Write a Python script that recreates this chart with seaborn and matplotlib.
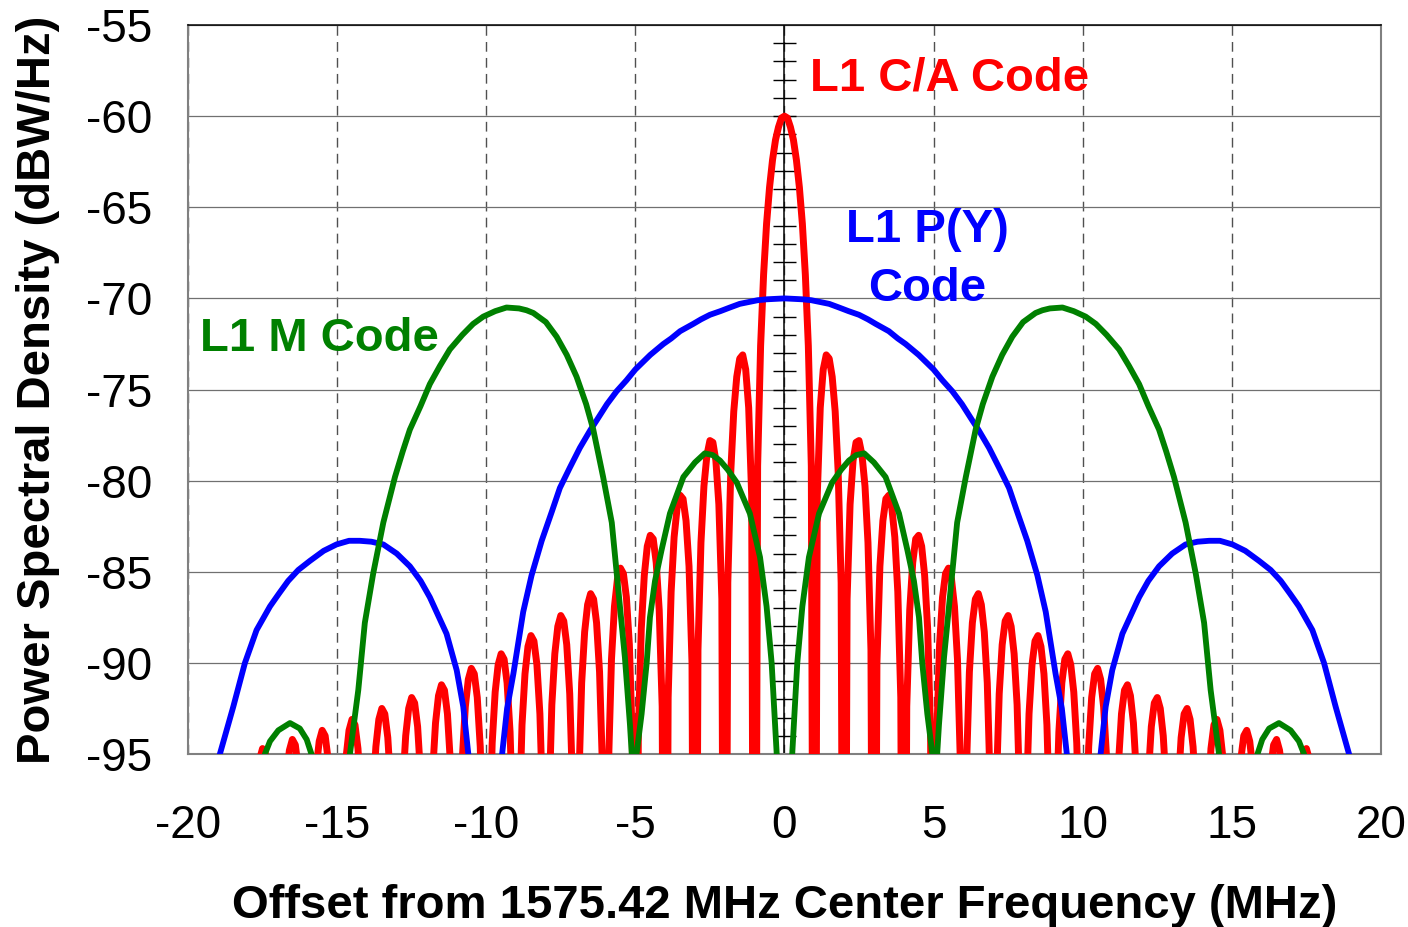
import matplotlib
matplotlib.use("Agg")
import matplotlib.pyplot as plt
import seaborn as sns

# GPS L1 signal spectra (MHz offset, dBW/Hz)

# L1 C/A code: one row per lobe, nulls pushed well below the axis
ca_x = [-18.0,
        -17.9, -17.8, -17.7, -17.6, -17.5, -17.4, -17.3, -17.2, -17.1, -17.0,
        -16.9, -16.8, -16.7, -16.6, -16.5, -16.4, -16.3, -16.2, -16.1, -16.0,
        -15.9, -15.8, -15.7, -15.6, -15.5, -15.4, -15.3, -15.2, -15.1, -15.0,
        -14.9, -14.8, -14.7, -14.6, -14.5, -14.4, -14.3, -14.2, -14.1, -14.0,
        -13.9, -13.8, -13.7, -13.6, -13.5, -13.4, -13.3, -13.2, -13.1, -13.0,
        -12.9, -12.8, -12.7, -12.6, -12.5, -12.4, -12.3, -12.2, -12.1, -12.0,
        -11.9, -11.8, -11.7, -11.6, -11.5, -11.4, -11.3, -11.2, -11.1, -11.0,
        -10.9, -10.8, -10.7, -10.6, -10.5, -10.4, -10.3, -10.2, -10.1, -10.0,
        -9.9, -9.8, -9.7, -9.6, -9.5, -9.4, -9.3, -9.2, -9.1, -9.0,
        -8.9, -8.8, -8.7, -8.6, -8.5, -8.4, -8.3, -8.2, -8.1, -8.0,
        -7.9, -7.8, -7.7, -7.6, -7.5, -7.4, -7.3, -7.2, -7.1, -7.0,
        -6.9, -6.8, -6.7, -6.6, -6.5, -6.4, -6.3, -6.2, -6.1, -6.0,
        -5.9, -5.8, -5.7, -5.6, -5.5, -5.4, -5.3, -5.2, -5.1, -5.0,
        -4.9, -4.8, -4.7, -4.6, -4.5, -4.4, -4.3, -4.2, -4.1, -4.0,
        -3.9, -3.8, -3.7, -3.6, -3.5, -3.4, -3.3, -3.2, -3.1, -3.0,
        -2.9, -2.8, -2.7, -2.6, -2.5, -2.4, -2.3, -2.2, -2.1, -2.0,
        -1.9, -1.8, -1.7, -1.6, -1.5, -1.4, -1.3, -1.2, -1.1, -1.0,
        -0.9, -0.8, -0.7, -0.6, -0.5, -0.4, -0.3, -0.2, -0.1, 0.0,
        0.1, 0.2, 0.3, 0.4, 0.5, 0.6, 0.7, 0.8, 0.9,
        1.0, 1.1, 1.2, 1.3, 1.4, 1.5, 1.6, 1.7, 1.8, 1.9,
        2.0, 2.1, 2.2, 2.3, 2.4, 2.5, 2.6, 2.7, 2.8, 2.9,
        3.0, 3.1, 3.2, 3.3, 3.4, 3.5, 3.6, 3.7, 3.8, 3.9,
        4.0, 4.1, 4.2, 4.3, 4.4, 4.5, 4.6, 4.7, 4.8, 4.9,
        5.0, 5.1, 5.2, 5.3, 5.4, 5.5, 5.6, 5.7, 5.8, 5.9,
        6.0, 6.1, 6.2, 6.3, 6.4, 6.5, 6.6, 6.7, 6.8, 6.9,
        7.0, 7.1, 7.2, 7.3, 7.4, 7.5, 7.6, 7.7, 7.8, 7.9,
        8.0, 8.1, 8.2, 8.3, 8.4, 8.5, 8.6, 8.7, 8.8, 8.9,
        9.0, 9.1, 9.2, 9.3, 9.4, 9.5, 9.6, 9.7, 9.8, 9.9,
        10.0, 10.1, 10.2, 10.3, 10.4, 10.5, 10.6, 10.7, 10.8, 10.9,
        11.0, 11.1, 11.2, 11.3, 11.4, 11.5, 11.6, 11.7, 11.8, 11.9,
        12.0, 12.1, 12.2, 12.3, 12.4, 12.5, 12.6, 12.7, 12.8, 12.9,
        13.0, 13.1, 13.2, 13.3, 13.4, 13.5, 13.6, 13.7, 13.8, 13.9,
        14.0, 14.1, 14.2, 14.3, 14.4, 14.5, 14.6, 14.7, 14.8, 14.9,
        15.0, 15.1, 15.2, 15.3, 15.4, 15.5, 15.6, 15.7, 15.8, 15.9,
        16.0, 16.1, 16.2, 16.3, 16.4, 16.5, 16.6, 16.7, 16.8, 16.9,
        17.0, 17.1, 17.2, 17.3, 17.4, 17.5, 17.6, 17.7, 17.8, 17.9,
        18.0]
ca_db = [-130,
         -105.4, -99.6, -96.8, -95.3, -94.7, -95.0, -96.3, -99.0, -104.4, -130,
         -104.9, -99.1, -96.3, -94.8, -94.2, -94.5, -95.8, -98.5, -103.9, -130,
         -104.4, -98.6, -95.8, -94.3, -93.7, -94.0, -95.3, -98.0, -103.4, -130,
         -103.8, -98.0, -95.2, -93.7, -93.1, -93.4, -94.7, -97.4, -102.8, -130,
         -103.2, -97.4, -94.6, -93.1, -92.5, -92.8, -94.1, -96.8, -102.2, -130,
         -102.6, -96.8, -94.0, -92.5, -91.9, -92.2, -93.5, -96.2, -101.6, -130,
         -101.9, -96.1, -93.3, -91.8, -91.2, -91.5, -92.8, -95.5, -100.9, -130,
         -101.0, -95.2, -92.4, -90.9, -90.3, -90.6, -91.9, -94.6, -100.0, -130,
         -100.2, -94.4, -91.6, -90.1, -89.5, -89.8, -91.1, -93.8, -99.2, -130,
         -99.2, -93.4, -90.6, -89.1, -88.5, -88.8, -90.1, -92.8, -98.2, -130,
         -98.1, -92.3, -89.5, -88.0, -87.4, -87.7, -89.0, -91.7, -97.1, -130,
         -96.9, -91.1, -88.3, -86.8, -86.2, -86.5, -87.8, -90.5, -95.9, -130,
         -95.6, -89.8, -86.9, -85.4, -84.8, -85.1, -86.4, -89.0, -94.4, -130,
         -93.9, -88.1, -85.2, -83.6, -83.0, -83.2, -84.5, -87.1, -92.4, -130,
         -91.9, -86.1, -83.1, -81.5, -80.8, -81.0, -82.2, -84.7, -90.0, -130,
         -89.3, -83.4, -80.3, -78.6, -77.8, -77.9, -78.9, -81.3, -86.5, -130,
         -85.6, -79.5, -76.2, -74.3, -73.3, -73.1, -73.9, -76.0, -80.8, -130,
         -79.2, -72.6, -68.7, -65.9, -63.9, -62.4, -61.3, -60.6, -60.1, -60.0,
         -60.1, -60.6, -61.3, -62.4, -63.9, -65.9, -68.7, -72.6, -79.2,
         -130, -80.8, -76.0, -73.9, -73.1, -73.3, -74.3, -76.2, -79.5, -85.6,
         -130, -86.5, -81.3, -78.9, -77.9, -77.8, -78.6, -80.3, -83.4, -89.3,
         -130, -90.0, -84.7, -82.2, -81.0, -80.8, -81.5, -83.1, -86.1, -91.9,
         -130, -92.4, -87.1, -84.5, -83.2, -83.0, -83.6, -85.2, -88.1, -93.9,
         -130, -94.4, -89.0, -86.4, -85.1, -84.8, -85.4, -86.9, -89.8, -95.6,
         -130, -95.9, -90.5, -87.8, -86.5, -86.2, -86.8, -88.3, -91.1, -96.9,
         -130, -97.1, -91.7, -89.0, -87.7, -87.4, -88.0, -89.5, -92.3, -98.1,
         -130, -98.2, -92.8, -90.1, -88.8, -88.5, -89.1, -90.6, -93.4, -99.2,
         -130, -99.2, -93.8, -91.1, -89.8, -89.5, -90.1, -91.6, -94.4, -100.2,
         -130, -100.0, -94.6, -91.9, -90.6, -90.3, -90.9, -92.4, -95.2, -101.0,
         -130, -100.9, -95.5, -92.8, -91.5, -91.2, -91.8, -93.3, -96.1, -101.9,
         -130, -101.6, -96.2, -93.5, -92.2, -91.9, -92.5, -94.0, -96.8, -102.6,
         -130, -102.2, -96.8, -94.1, -92.8, -92.5, -93.1, -94.6, -97.4, -103.2,
         -130, -102.8, -97.4, -94.7, -93.4, -93.1, -93.7, -95.2, -98.0, -103.8,
         -130, -103.4, -98.0, -95.3, -94.0, -93.7, -94.3, -95.8, -98.6, -104.4,
         -130, -103.9, -98.5, -95.8, -94.5, -94.2, -94.8, -96.3, -99.1, -104.9,
         -130, -104.4, -99.0, -96.3, -95.0, -94.7, -95.3, -96.8, -99.6, -105.4,
         -130]

# L1 P(Y) code
py_x = [-19.2, -18.93, -18.48, -18.09, -17.70, -17.25, -16.95, -16.64, -16.3, -15.91,
        -15.45, -15.02, -14.6, -14.24, -13.85, -13.45, -13.0, -12.56, -12.2, -11.89,
        -11.33, -10.99, -10.77, -10.60, -10.45, -10.0,
        -9.6, -9.48, -9.3, -9.09, -8.76, -8.48, -8.14, -7.8, -7.53, -7.2, -6.86, -6.5,
        -6.3, -5.95, -5.63, -5.3, -5.0, -4.75, -4.5, -4.06, -3.8, -3.5, -3.06, -2.8,
        -2.5, -2.15, -1.83, -1.5, -1.2, -0.9, -0.6, 0.0,
        0.6, 0.9, 1.2, 1.5, 1.83, 2.15, 2.5, 2.8, 3.06, 3.5, 3.8, 4.06, 4.5, 4.75,
        5.0, 5.3, 5.63, 5.95, 6.3, 6.5, 6.86, 7.2, 7.53, 7.8, 8.14, 8.48, 8.76, 9.09,
        9.3, 9.48, 9.6,
        10.0, 10.45, 10.60, 10.77, 10.99, 11.33, 11.89, 12.2, 12.56, 13.0, 13.45,
        13.85, 14.24, 14.6, 15.02, 15.45, 15.91, 16.3, 16.64, 16.95, 17.25, 17.70,
        18.09, 18.48, 18.93, 19.2]
py_db = [-97.0, -95.0, -92.4, -90.0, -88.2, -86.9, -86.2, -85.5, -84.9, -84.4,
         -83.85, -83.5, -83.3, -83.3, -83.35, -83.5, -84.0, -84.7, -85.5, -86.4,
         -88.4, -90.4, -92.4, -95.0, -97.5, -130,
         -97.6, -95.2, -92.5, -90.6, -87.2, -85.2, -83.3, -81.7, -80.4, -79.3, -78.2, -77.2,
         -76.7, -75.8, -75.1, -74.5, -73.9, -73.5, -73.1, -72.5, -72.2, -71.8, -71.4, -71.15,
         -70.9, -70.7, -70.5, -70.3, -70.2, -70.1, -70.05, -70.0,
         -70.05, -70.1, -70.2, -70.3, -70.5, -70.7, -70.9, -71.15, -71.4, -71.8, -72.2, -72.5,
         -73.1, -73.5, -73.9, -74.5, -75.1, -75.8, -76.7, -77.2, -78.2, -79.3, -80.4, -81.7,
         -83.3, -85.2, -87.2, -90.6, -92.5, -95.2, -97.6,
         -130, -97.5, -95.0, -92.4, -90.4, -88.4, -86.4, -85.5, -84.7, -84.0, -83.5,
         -83.35, -83.3, -83.3, -83.5, -83.85, -84.4, -84.9, -85.5, -86.2, -86.9, -88.2,
         -90.0, -92.4, -95.0, -97.0]

# L1 M code
m_x = [-17.6, -17.42, -17.25, -16.97, -16.58, -16.25, -16.02, -15.86, -15.7, -15.2,
       -14.7, -14.57, -14.29, -14.07, -13.79, -13.45, -13.06, -12.8, -12.56, -12.2,
       -11.89, -11.55, -11.22, -10.8, -10.44, -10.1, -9.7, -9.32, -8.9, -8.65,
       -8.42, -8.0, -7.64, -7.3, -6.97, -6.65, -6.41, -6.08, -5.79, -5.57,
       -5.35, -5.18, -5.12, -5.04,
       -4.96, -4.79, -4.62, -4.51, -4.34, -4.12, -3.84, -3.39, -3.0, -2.67, -2.4,
       -2.16, -1.9, -1.6, -1.16, -0.82, -0.6, -0.43, -0.26, -0.12, 0.0,
       0.12, 0.26, 0.43, 0.6, 0.82, 1.16, 1.6, 1.9, 2.16, 2.4, 2.67, 3.0, 3.39,
       3.84, 4.12, 4.34, 4.51, 4.62, 4.79, 4.96,
       5.04, 5.12, 5.18, 5.35, 5.57, 5.79, 6.08, 6.41, 6.65, 6.97, 7.3, 7.64,
       8.0, 8.42, 8.65, 8.9, 9.32, 9.7, 10.1, 10.44, 10.8, 11.22, 11.55, 11.89,
       12.2, 12.56, 12.8, 13.06, 13.45, 13.79, 14.07, 14.29, 14.57, 14.7,
       15.2, 15.7, 15.86, 16.02, 16.25, 16.58, 16.97, 17.25, 17.42, 17.6]
m_db = [-97.0, -95.0, -94.3, -93.7, -93.3, -93.6, -94.2, -95.0, -96.5, -130,
        -97.0, -95.0, -91.5, -87.8, -85.1, -82.3, -79.8, -78.4, -77.2, -75.9,
        -74.7, -73.7, -72.8, -72.0, -71.4, -71.0, -70.7, -70.5, -70.55, -70.65,
        -70.8, -71.3, -72.1, -73.1, -74.3, -75.8, -77.2, -79.8, -82.3, -86.0,
        -89.7, -93.4, -95.0, -130,
        -95.0, -92.8, -90.0, -87.5, -85.5, -83.8, -81.8, -79.8, -79.0, -78.5, -78.6,
        -78.9, -79.4, -80.1, -81.8, -84.2, -86.9, -90.0, -95.0, -101.0, -130,
        -101.0, -95.0, -90.0, -86.9, -84.2, -81.8, -80.1, -79.4, -78.9, -78.6, -78.5, -79.0, -79.8,
        -81.8, -83.8, -85.5, -87.5, -90.0, -92.8, -95.0,
        -130, -95.0, -93.4, -89.7, -86.0, -82.3, -79.8, -77.2, -75.8, -74.3, -73.1, -72.1,
        -71.3, -70.8, -70.65, -70.55, -70.5, -70.7, -71.0, -71.4, -72.0, -72.8, -73.7, -74.7,
        -75.9, -77.2, -78.4, -79.8, -82.3, -85.1, -87.8, -91.5, -95.0, -97.0,
        -130, -96.5, -95.0, -94.2, -93.6, -93.3, -93.7, -94.3, -95.0, -97.0]

x_ticks = [-20, -15, -10, -5, 0, 5, 10, 15, 20]
y_ticks = [-95, -90, -85, -80, -75, -70, -65, -60, -55]

sns.set_style("white")
plt.rcParams['font.family'] = ['Liberation Sans', 'DejaVu Sans']
plt.rcParams['axes.unicode_minus'] = False
plt.rcParams['text.color'] = 'black'
plt.rcParams['axes.labelcolor'] = 'black'
plt.rcParams['xtick.color'] = 'black'
plt.rcParams['ytick.color'] = 'black'

fig, ax = plt.subplots(figsize=(14.08, 9.27), dpi=100)
fig.subplots_adjust(left=0.1335, right=0.9808, bottom=0.1866, top=0.973)

# grid: solid horizontals, dashed verticals
ax.grid(axis='y', color='#707070', linewidth=0.9, linestyle='-')
ax.grid(axis='x', color='#505050', linewidth=1.0, linestyle=(0, (7, 4.5)))
ax.set_axisbelow(True)

# zero axis with 1 dB tick marks
ax.axvline(0, color='black', linewidth=1.1, zorder=1.5)
ax.hlines(range(-94, -55), -0.39, 0.39, color='black', linewidth=1.0, zorder=1.5)

sns.lineplot(x=ca_x, y=ca_db, color='#FF0000', estimator=None, sort=False, ax=ax, zorder=3)
sns.lineplot(x=py_x, y=py_db, color='#0000FF', estimator=None, sort=False, ax=ax, zorder=4)
sns.lineplot(x=m_x, y=m_db, color='#008000', estimator=None, sort=False, ax=ax, zorder=5)
# curve widths set on the drawn lines (red, blue, green)
for line, lw in zip(ax.lines[-3:], [5.0, 4.2, 4.2]):
    line.set_linewidth(lw)
    line.set_solid_joinstyle('round')

ax.set_xlim(-20, 20)
ax.set_ylim(-95, -55)
ax.set_xticks(x_ticks)
ax.set_yticks(y_ticks)
ax.set_xticklabels([str(t) for t in x_ticks])
ax.set_yticklabels([str(t) for t in y_ticks])
ax.tick_params(axis='both', length=0, labelsize=33, labelcolor='black')
ax.tick_params(axis='y', pad=26)
ax.tick_params(axis='x', pad=36)

for side in ['left', 'right', 'bottom']:
    ax.spines[side].set_color('#808080')
    ax.spines[side].set_linewidth(1.5)
ax.spines['top'].set_color('black')
ax.spines['top'].set_linewidth(1.1)

ax.set_xlabel('Offset from 1575.42 MHz Center Frequency (MHz)', fontsize=34, fontweight='bold', color='black')
ax.xaxis.set_label_coords(0.5, -0.178)
ax.set_ylabel('Power Spectral Density (dBW/Hz)', fontsize=34, fontweight='bold', color='black')
ax.yaxis.set_label_coords(-0.107, 0.5)

# curve labels
ax.text(0.86, -58.6, 'L1 C/A Code', color='#FF0000', fontsize=34, fontweight='bold',
        ha='left', va='baseline')
ax.text(4.78, -66.93, 'L1 P(Y)', color='#0000FF', fontsize=34, fontweight='bold',
        ha='center', va='baseline')
ax.text(4.78, -70.14, 'Code', color='#0000FF', fontsize=34, fontweight='bold',
        ha='center', va='baseline')
ax.text(-19.6, -72.89, 'L1 M Code', color='#008000', fontsize=34, fontweight='bold',
        ha='left', va='baseline')

fig.savefig('out.png', dpi=100)
